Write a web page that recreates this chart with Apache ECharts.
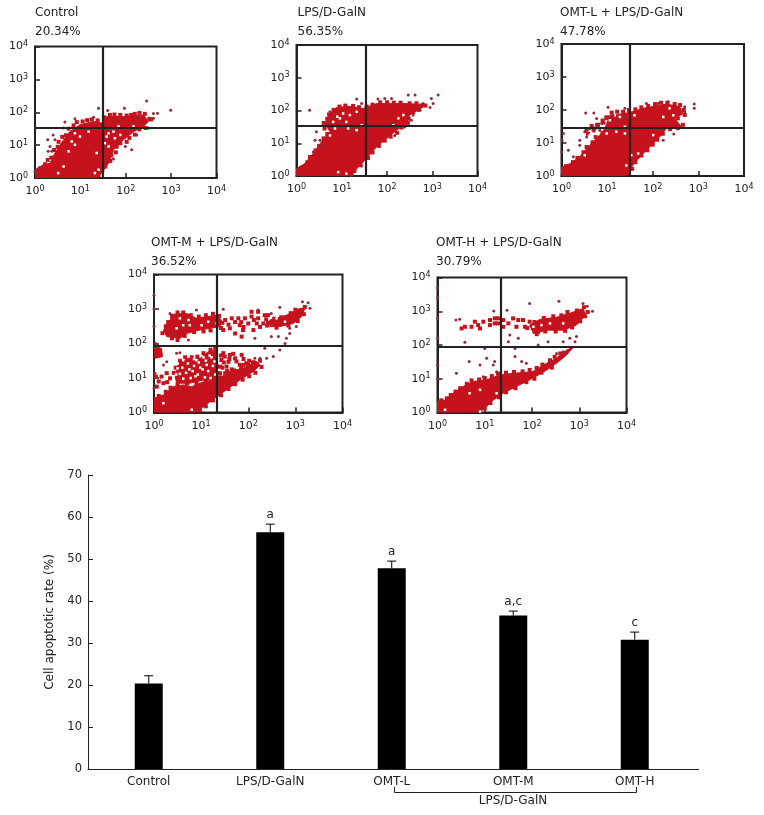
<!DOCTYPE html>
<html><head><meta charset="utf-8">
<style>html,body{margin:0;padding:0;background:#fff}#c{width:764px;height:815px}</style>
<script src="https://cdn.jsdelivr.net/npm/echarts@6/dist/echarts.min.js"></script>
</head><body><div id="c"></div>
<script>
// ---- bar chart values ----
const categories = ['Control','LPS/D-GalN','OMT-L','OMT-M','OMT-H'];
const apoptoticRate = [20.34,56.35,47.78,36.52,30.79];
const errorTop = [22.2,58.3,49.5,37.6,32.6];
const sigLetters = ['','a','a','a,c','c'];
const yTicks = [0,10,20,30,40,50,60,70];
const bracketLabel = 'LPS/D-GalN';

// ---- flow-cytometry panels; every pair is [log10 x, log10 y] ----
const panelNames = ['Control','LPS/D-GalN','OMT-L + LPS/D-GalN','OMT-M + LPS/D-GalN','OMT-H + LPS/D-GalN'];
const panelRates = ['20.34%','56.35%','47.78%','36.52%','30.79%'];
const gateX = [1.49,1.525,1.50,1.34,1.33];
const gateY = [1.515,1.53,1.47,1.94,1.94];

const controlCloud = [[[0,0],[0,.25],[.18,.40],[.33,.45],[.44,.76],[.63,1.16],[.77,1.41],[.99,1.62],[1.29,1.72],[1.47,1.67],[1.58,1.87],[1.95,1.87],[2.39,1.92],[2.5,1.72],[2.39,1.57],[2.17,1.41],[1.95,1.16],[1.73,.86],[1.62,.45],[1.47,.15],[1.36,0]]];
const controlFringe = [[.12,.3],[.22,.42],[.28,.55],[.36,.62],[.42,.85],[.5,.95],[.52,1.1],[.6,1.25],[.68,1.3],[.74,1.5],[.85,1.6],[.92,1.7],[1.05,1.72],[1.15,1.76],[1.25,1.78],[1.38,1.75],[1.52,1.85],[1.65,1.92],[1.75,1.93],[1.88,1.92],[2.02,1.9],[2.12,1.92],[2.2,1.95],[2.3,1.98],[2.42,1.95],[2.52,1.8],[2.56,1.78],[2.44,1.52],[2.3,1.48],[2.2,1.32],[2.08,1.22],[2.02,1.1],[1.88,1.06],[1.8,.95],[1.78,.78],[1.68,.68],[1.66,.52],[1.55,.35],[1.48,.22],[1.4,.08]];
const controlDark = [[2.46,2.34],[1.40,2.12],[1.60,2.05],[1.97,2.12],[2.61,1.96],[2.70,1.97],[2.99,2.06],[.88,1.80],[.66,1.70],[.40,1.31],[.28,1.16],[.44,1.16],[.33,.96],[.37,.81],[.29,.81],[2.13,.86],[1.99,.96],[2.24,1.31],[1.73,.58],[2.61,1.82],[.63,1.52],[.77,1.36],[1.29,1.85],[2.28,1.87],[2.5,1.52],[.11,.3],[0,.2],[.04,.1]];
const controlWhite = [[1.18,1.41],[.99,1.26],[.88,1.01],[.74,.81],[1.58,1.26],[1.76,1.21],[1.88,1.31],[1.73,1.41],[1.62,1.36],[1.54,1.06],[1.62,.96],[1.36,.76],[1.32,.15],[1.40,.25],[.63,.35],[.51,.15],[.81,1.11],[.88,1.36],[2.17,1.57],[1.84,1.57]];

const lpsCloud = [[[0,0],[0,.22],[.18,.38],[.37,.69],[.55,1.04],[.74,1.35],[.63,1.60],[.74,1.91],[.88,2.09],[1.18,2.13],[1.47,2.06],[1.77,2.21],[2.43,2.21],[2.73,2.19],[2.80,2.11],[2.50,1.86],[2.43,1.60],[2.21,1.40],[1.99,1.14],[1.77,.89],[1.51,.48],[1.33,.22],[1.18,0]]];
const lpsFringe = [[.1,.25],[.24,.42],[.3,.58],[.42,.78],[.5,.92],[.6,1.15],[.68,1.28],[.62,1.45],[.6,1.62],[.68,1.75],[.72,1.88],[.82,2.02],[.95,2.12],[1.08,2.15],[1.25,2.14],[1.38,2.1],[1.55,2.12],[1.68,2.18],[1.85,2.25],[2.0,2.25],[2.15,2.24],[2.3,2.24],[2.5,2.22],[2.65,2.22],[2.78,2.16],[2.85,2.15],[2.7,2.02],[2.58,1.95],[2.48,1.75],[2.46,1.62],[2.32,1.48],[2.22,1.32],[2.08,1.2],[1.95,1.08],[1.82,.92],[1.68,.72],[1.58,.55],[1.42,.32],[1.28,.15],[1.22,.05]];
const lpsDark = [[.29,2.01],[3.13,2.47],[2.98,2.37],[3.02,2.21],[2.95,2.09],[2.62,2.47],[2.47,2.47],[1.95,2.37],[2.10,2.37],[1.80,2.35],[1.33,2.35],[1.44,2.21],[2.58,1.86],[2.54,1.70],[2.39,1.50],[2.17,1.24],[.44,1.35],[.41,1.09],[.52,1.09],[.55,.94],[.37,.73],[.74,1.96],[.77,1.76],[.70,1.60],[.74,1.50],[.04,.22],[.05,.07],[2.8,2.21],[2.69,2.11],[2.73,2.01],[.99,1.65],[1.10,1.55],[1.25,1.40]];
const lpsWhite = [[1.03,1.91],[1.18,1.86],[1.33,1.96],[.90,1.81],[.81,1.65],[.96,1.76],[.85,1.45],[1.14,1.45],[1.33,1.40],[1.44,1.55],[.92,.12],[1.40,.22],[1.10,.07],[2.25,1.76],[2.36,1.86],[2.14,1.55],[1.10,1.65],[.74,1.24]];

const lowCloud = [[[0,0],[0,.27],[.18,.37],[.40,.58],[.62,.94],[.84,1.24],[.95,1.44],[1.06,1.84],[1.35,1.89],[1.53,1.94],[1.79,2.05],[2.30,2.18],[2.59,2.10],[2.66,1.89],[2.48,1.74],[2.63,1.49],[2.30,1.44],[2.15,1.18],[1.93,.88],[1.72,.58],[1.53,.27],[1.39,0]]];
const lowFringe = [[.1,.3],[.25,.42],[.35,.55],[.48,.72],[.55,.88],[.68,1.02],[.75,1.18],[.9,1.3],[.7,1.42],[.55,1.4],[.78,1.55],[.92,1.62],[1.0,1.78],[1.1,1.92],[1.22,1.95],[1.35,1.95],[1.48,2.0],[1.62,2.02],[1.75,2.08],[1.9,2.12],[2.05,2.18],[2.18,2.22],[2.32,2.22],[2.48,2.18],[2.6,2.15],[2.68,2.0],[2.7,1.85],[2.55,1.75],[2.66,1.55],[2.55,1.45],[2.38,1.42],[2.22,1.28],[2.1,1.1],[2.0,.95],[1.88,.78],[1.75,.62],[1.62,.42],[1.55,.22],[1.45,.08],[.66,1.52],[.80,1.55],[.90,1.68],[.72,1.38],[.58,1.28],[.98,1.76]];
const lowDark = [[2.91,2.18],[2.91,2.05],[.53,1.91],[.71,1.91],[1.02,2.08],[1.39,2.05],[.77,1.74],[.88,1.59],[.62,1.44],[.51,1.34],[.55,1.18],[.40,1.08],[.40,.93],[.15,.78],[.04,1.29],[.01,1.08],[.01,.73],[.26,.58],[.58,.88],[2.46,1.27],[2.23,1.08],[2.12,2.2],[1.86,2.2],[2.34,2.25],[2.7,2.10],[2.7,1.94],[.84,1.39],[.69,1.49],[1.13,1.84],[1.39,1.79]];
const lowWhite = [[1.17,1.84],[1.28,1.79],[1.06,1.69],[.99,1.29],[.77,1.34],[.62,1.24],[1.20,1.34],[1.39,1.29],[1.53,.63],[1.68,.68],[1.42,.32],[2.01,1.24],[2.45,1.84],[2.37,2.05],[2.23,1.79],[1.39,1.49],[.51,.63],[1.6,1.84]];

const midCloud = [
 [[0,0],[0,.41],[.20,.51],[.41,.75],[.62,.80],[.80,.75],[1.05,.89],[1.33,.94],[1.61,1.19],[1.90,1.29],[2.18,1.48],[2.25,1.38],[2.11,1.19],[1.82,.94],[1.54,.66],[1.33,.46],[1.05,.17],[.87,0]],
 [[.20,2.39],[.34,2.68],[.41,2.85],[.69,2.87],[.90,2.73],[1.33,2.82],[1.43,2.68],[1.40,2.49],[.97,2.39],[.69,2.29],[.55,2.15],[.27,2.20]],
 [[2.46,2.68],[2.81,2.82],[3.10,3.02],[3.20,3.02],[3.13,2.78],[2.95,2.58],[2.67,2.49],[2.46,2.49]],
 [[.01,1.91],[.16,1.86],[.18,1.62],[.02,1.57]],
 [[.45,1.04],[.52,1.43],[.73,1.57],[.98,1.57],[1.15,1.76],[1.34,1.81],[1.34,.94],[1.05,.94],[.76,.85],[.48,.85]]
];
const midFringe = [[.1,.48],[.25,.6],[.35,.72],[.5,.82],[.7,.85],[.9,.85],[1.1,.95],[1.2,.98],[1.4,1.02],[1.55,1.12],[1.7,1.22],[1.85,1.32],[2.0,1.38],[2.12,1.45],[2.25,1.5],[2.28,1.32],[2.15,1.15],[2.02,1.05],[1.88,.95],[1.72,.82],[1.58,.68],[1.42,.5],[1.25,.35],[1.1,.18],[.95,.06],[.18,2.3],[.25,2.5],[.3,2.62],[.38,2.8],[.5,2.9],[.62,2.9],[.78,2.82],[.95,2.78],[1.1,2.82],[1.25,2.86],[1.38,2.8],[1.45,2.6],[1.42,2.45],[1.2,2.38],[1.05,2.35],[.85,2.33],[.65,2.22],[.5,2.1],[.38,2.15],[2.42,2.6],[2.55,2.72],[2.7,2.76],[2.9,2.88],[3.0,2.98],[3.2,3.06],[3.18,2.85],[3.05,2.65],[2.85,2.52],[2.6,2.46],[2.4,2.52],[.27,1.14],[.34,.99],[.16,1.04],[.20,.85],[.06,.75],[.04,1.04],[.1,.9],[.28,.88],[1.47,1.72],[1.61,1.67],[1.43,1.52],[1.58,1.47],[1.72,1.57],[1.86,1.67],[1.40,1.33],[1.54,1.33],[1.96,1.43],[1.82,1.38],[1.40,1.14],[1.51,1.14],[1.45,1.3],[1.6,1.55],[1.75,1.48],[1.5,1.62],[1.68,1.7],[1.9,1.55],[2.02,1.5],[1.9,1.38],[1.48,1.45],[1.42,1.65],[1.55,1.2],[1.65,1.25],[2.1,1.45],[1.51,2.68],[1.65,2.73],[1.79,2.73],[1.93,2.73],[2.07,2.78],[2.21,2.73],[2.35,2.82],[2.32,2.58],[2.18,2.58],[2.0,2.58],[1.82,2.53],[1.61,2.44],[1.47,2.39],[1.72,2.29],[1.89,2.39],[2.11,2.39],[1.86,2.20],[2.21,2.92],[2.07,2.92],[1.58,2.55],[1.72,2.62],[1.9,2.48],[2.25,2.48],[2.38,2.7],[2.12,2.68],[1.85,2.62],[2.42,2.82],[.42,1.15],[.46,1.3],[.55,1.5],[.66,1.6],[.8,1.6],[.92,1.62],[1.05,1.72],[1.2,1.82],[1.3,1.85]];
const midDark = [[3.15,3.21],[3.27,3.18],[3.31,3.02],[2.67,3.05],[2.21,2.97],[2.49,2.87],[1.47,2.99],[.90,2.97],[.34,2.87],[3.02,2.49],[2.88,2.29],[2.81,2.15],[2.88,2.44],[2.49,2.2],[2.64,2.2],[2.14,2.15],[2.78,2.0],[2.67,1.81],[2.53,1.62],[2.39,1.57],[2.25,1.57],[2.14,1.57],[.55,1.73],[.2,1.38],[.02,1.14],[0,.7],[.48,1.72],[.27,1.47],[.04,2.0],[2.35,1.86],[.87,2.49],[.73,2.1],[.41,2.29],[0,2.5],[0,3.0],[0,3.4]];
const midWhite = [[.62,2.53],[.48,2.44],[.76,2.53],[1.15,2.63],[1.01,2.53],[1.33,2.58],[.55,2.73],[.73,2.68],[2.60,2.73],[2.78,2.63],[.2,.27],[.8,.08],[.6,1.3],[.72,1.42],[.85,1.35],[.95,1.45],[1.1,1.5],[1.22,1.6],[.55,1.12],[.68,1.15],[.82,1.2],[.93,1.1],[1.03,1.25],[1.15,1.2],[1.25,1.35],[1.3,1.1],[.62,.98],[.78,1.0],[1.08,1.02],[1.2,1.0],[.5,1.28],[.9,1.52],[.75,1.25],[1.12,1.38],[1.28,1.48],[1.18,1.65],[.98,1.3],[.88,1.05],[.5,1.42],[.62,1.52],[.85,1.55],[1.05,1.6],[.47,1.1]];

const highCloud = [
 [[0,0],[0,.33],[.16,.37],[.33,.57],[.54,.77],[.76,.92],[1.04,.97],[1.32,1.11],[1.60,1.16],[2.02,1.21],[2.31,1.46],[2.52,1.61],[2.73,1.85],[2.87,1.93],[2.73,1.70],[2.52,1.46],[2.31,1.26],[2.02,1.02],[1.74,.82],[1.39,.57],[1.18,.37],[.97,.08],[.86,0]],
 [[1.95,2.59],[2.17,2.76],[2.52,2.82],[2.80,2.94],[3.08,3.08],[3.14,2.89],[2.94,2.59],[2.66,2.44],[2.31,2.44],[2.03,2.34]]
];
const highFringe = [[.08,.36],[.2,.42],[.28,.52],[.38,.62],[.48,.72],[.62,.85],[.72,.95],[.88,.98],[1.0,1.02],[1.15,1.08],[1.28,1.15],[1.45,1.18],[1.62,1.2],[1.8,1.22],[1.95,1.26],[2.1,1.32],[2.22,1.42],[2.38,1.55],[2.48,1.65],[2.6,1.75],[2.42,1.33],[2.2,1.18],[2.05,1.0],[1.88,.9],[1.65,.72],[1.45,.6],[1.3,.45],[1.12,.28],[1.0,.12],[1.9,2.5],[2.05,2.68],[2.25,2.8],[2.45,2.85],[2.62,2.88],[2.75,2.98],[2.95,3.02],[3.1,3.12],[3.18,2.98],[3.12,2.85],[3.02,2.7],[2.85,2.52],[2.7,2.42],[2.5,2.4],[2.28,2.4],[2.1,2.32],[1.11,2.74],[1.21,2.79],[1.28,2.79],[1.21,2.64],[1.11,2.59],[1.28,2.64],[.97,2.69],[.86,2.59],[.79,2.69],[.72,2.54],[.90,2.49],[.51,2.49],[.58,2.54],[1.39,2.74],[1.50,2.64],[1.60,2.79],[1.71,2.74],[1.81,2.74],[1.85,2.54],[1.95,2.69],[1.67,2.54],[1.39,2.54],[2.06,2.54],[2.13,2.39]];
const highDark = [[.47,2.76],[.39,2.74],[1.19,3.01],[1.47,3.03],[1.95,3.23],[2.57,3.3],[3.17,3.15],[3.28,3.0],[3.08,3.23],[.58,2.08],[1.53,2.3],[1.71,2.2],[1.5,2.1],[2.34,2.1],[2.8,2.2],[2.91,2.1],[2.94,2.25],[2.66,2.1],[1.0,1.9],[1.64,1.9],[2.13,2.0],[.9,1.41],[.67,1.51],[1.04,1.61],[1.21,1.51],[1.64,1.66],[1.78,1.51],[1.88,1.46],[.4,1.16],[.97,1.06],[1.25,1.21],[1.18,1.41],[2.41,1.46],[2.52,1.75],[2.66,1.8],[0,1.0],[0,1.4],[0,2.2],[0,2.8],[0,3.4],[0,3.7]];
const highWhite = [[2.2,2.59],[2.38,2.64],[2.66,2.64],[2.03,2.54],[.68,.57],[.9,.67],[.9,.03],[1.28,.33],[1.25,.57],[.16,.08]];

const clouds = [controlCloud,lpsCloud,lowCloud,midCloud,highCloud];
const fringes = [controlFringe,lpsFringe,lowFringe,midFringe,highFringe];
const darks = [controlDark,lpsDark,lowDark,midDark,highDark];
const whites = [controlWhite,lpsWhite,lowWhite,midWhite,highWhite];

// ---- layout ----
const FONT = '"DejaVu Sans", sans-serif';
const INK = '#222222';
const RED = '#c5121c';
const DARK = '#8c2c3e';
const boxes = [
 {l:35,t:46.5,w:181.5,h:131.5,tx:35,ty:3},
 {l:296.5,t:45,w:181,h:131,tx:297.5,ty:3},
 {l:561.5,t:44,w:182.5,h:132,tx:560,ty:3},
 {l:154,t:274.5,w:188.5,h:138,tx:151,ty:233},
 {l:437.5,t:277.5,w:189,h:135,tx:436,ty:233}
];
const toVal = p => [Math.pow(10,p[0]),Math.pow(10,p[1])];
const sup = v => '{b|10}{s|' + Math.round(Math.log10(v)) + '}';

const grid=[], xAxis=[], yAxis=[], series=[], title=[];
boxes.forEach((b,i)=>{
  grid.push({left:b.l,top:b.t,width:b.w,height:b.h,show:true,borderColor:INK,borderWidth:2,backgroundColor:'#fff'});
  title.push({text:panelNames[i]+'\n'+panelRates[i],left:b.tx,top:b.ty,padding:0,
    textStyle:{fontFamily:FONT,fontSize:12,fontWeight:'normal',color:INK,lineHeight:19}});
  const rich={b:{fontFamily:FONT,fontSize:11,color:INK},s:{fontFamily:FONT,fontSize:8,color:INK,verticalAlign:'top',padding:[0,0,5,0]}};
  const ax=(extra)=>Object.assign({type:'log',logBase:10,min:1,max:10000,gridIndex:i,splitNumber:4,
    axisLine:{show:true,onZero:false,lineStyle:{color:INK,width:2}},
    axisTick:{show:true,inside:true,length:5,lineStyle:{color:INK,width:1.5}},
    minorTick:{show:false},splitLine:{show:false},
    axisLabel:{formatter:sup,rich:rich,margin:7,hideOverlap:false,showMinLabel:true,showMaxLabel:true}},extra);
  xAxis.push(ax({}));
  yAxis.push(ax({}));
  const base={xAxisIndex:i,yAxisIndex:i,silent:true,animation:false};
  series.push(Object.assign({},base,{type:'custom',z:2,clip:true,
    data:clouds[i].map(()=>[1,1]),
    encode:{x:0,y:1},
    renderItem:(p,api)=>({type:'polygon',
      shape:{points:clouds[i][p.dataIndex].map(q=>api.coord(toVal(q)))},
      style:{fill:RED,stroke:RED,lineWidth:1}})}));
  series.push(Object.assign({},base,{type:'scatter',z:3,symbol:'rect',symbolSize:4,itemStyle:{color:RED,opacity:1},
    data:fringes[i].map(toVal)}));
  series.push(Object.assign({},base,{type:'scatter',z:4,symbol:'rect',symbolSize:2.5,itemStyle:{color:'#fff',opacity:1},
    data:whites[i].map(toVal)}));
  series.push(Object.assign({},base,{type:'scatter',z:5,symbol:'circle',symbolSize:3,itemStyle:{color:DARK,opacity:1},
    data:darks[i].map(toVal),
    markLine:{silent:true,symbol:'none',animation:false,z:6,label:{show:false},
      lineStyle:{color:INK,width:2.2,type:'solid'},
      data:[{xAxis:Math.pow(10,gateX[i])},{yAxis:Math.pow(10,gateY[i])}]}}));
});

// ---- bar chart ----
const bi = boxes.length;
grid.push({left:88,top:475,width:607.5,height:294,show:false});
xAxis.push({type:'category',gridIndex:bi,data:categories,
  axisLine:{show:true,lineStyle:{color:INK,width:1}},axisTick:{show:false},
  axisLabel:{fontFamily:FONT,fontSize:12,color:INK,margin:7,interval:0}});
yAxis.push({type:'value',gridIndex:bi,min:yTicks[0],max:yTicks[yTicks.length-1],interval:10,
  name:'Cell apoptotic rate (%)',nameLocation:'middle',nameGap:32,nameRotate:90,
  nameTextStyle:{fontFamily:FONT,fontSize:12,color:INK},
  axisLine:{show:true,lineStyle:{color:INK,width:1}},
  axisTick:{show:true,inside:true,length:5,lineStyle:{color:INK,width:1}},
  splitLine:{show:false},
  axisLabel:{fontFamily:FONT,fontSize:11.5,color:INK,margin:6}});
series.push({type:'bar',xAxisIndex:bi,yAxisIndex:bi,data:apoptoticRate,barWidth:28,silent:true,animation:false,
  itemStyle:{color:'#000'},z:3});
series.push({type:'custom',xAxisIndex:bi,yAxisIndex:bi,silent:true,animation:false,z:2,
  data:categories.map((c,i)=>[i,apoptoticRate[i],errorTop[i]]),
  encode:{x:0,y:[1,2]},
  renderItem:(p,api)=>{
    const lo=api.coord([api.value(0),api.value(1)]), hi=api.coord([api.value(0),api.value(2)]);
    const st={stroke:'#000',lineWidth:1,fill:null};
    return {type:'group',children:[
      {type:'line',shape:{x1:lo[0],y1:lo[1],x2:hi[0],y2:hi[1]},style:st},
      {type:'line',shape:{x1:hi[0]-4.5,y1:hi[1],x2:hi[0]+4.5,y2:hi[1]},style:st},
      {type:'text',style:{text:sigLetters[p.dataIndex],x:hi[0],y:hi[1]-3,align:'center',verticalAlign:'bottom',
        fontFamily:FONT,fontSize:12,fill:INK}}
    ]};
  }});

const chart = echarts.init(document.getElementById('c'),null,{renderer:'canvas'});
chart.setOption({
  animation:false,backgroundColor:'#fff',title,grid,xAxis,yAxis,series,
  graphic:[
    {type:'line',shape:{x1:690,y1:769.5,x2:699,y2:769.5},style:{stroke:INK,lineWidth:1}},
    {type:'polyline',shape:{points:[[394.5,787],[394.5,792.5],[636.5,792.5],[636.5,787]]},style:{stroke:INK,lineWidth:1,fill:null}},
    {type:'text',style:{text:bracketLabel,x:513,y:800.5,align:'center',verticalAlign:'middle',fontFamily:FONT,fontSize:12,fill:INK}}
  ]
});
</script></body></html>
